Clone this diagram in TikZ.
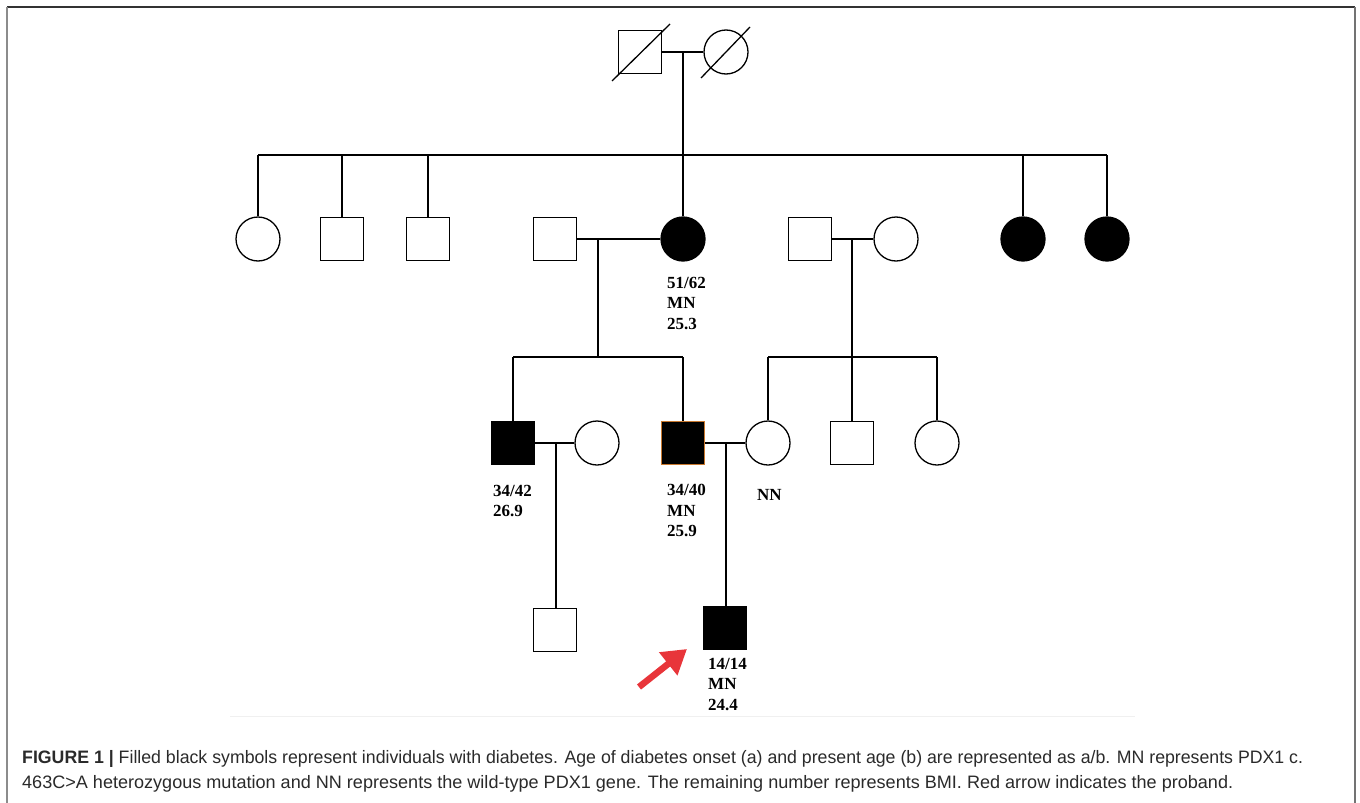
\documentclass[tikz,border=0pt]{standalone}
\usepackage{fontspec}
\setmainfont{Liberation Serif}
\setsansfont{Liberation Sans}
\usepackage{graphicx}
\usetikzlibrary{arrows.meta}
\definecolor{arrowred}{HTML}{E8353A}
\definecolor{boxorange}{HTML}{C8782E}
\definecolor{captxt}{HTML}{2A2A2A}
\begin{document}
\begin{tikzpicture}[x=1pt,y=-1pt,
  male/.style={draw, rectangle, minimum size=43pt, inner sep=0pt, line width=1.3pt},
  female/.style={draw, circle, minimum size=44pt, inner sep=0pt, line width=1.3pt},
  aff/.style={fill=black},
  ln/.style={line width=1.3pt},
  lab/.style={anchor=north west, inner sep=0pt, align=left,
    font=\bfseries\fontsize{17}{20.5}\selectfont},
  captext/.style={anchor=base west, inner sep=0pt, text=captxt,
    font=\sffamily\fontsize{18}{22}\selectfont}]
\useasboundingbox (0,0) rectangle (1360,803);
% frame
\draw[line width=1.5pt, black!80] (7,7) -- (1355,7);
\draw[line width=2pt, black!45] (7,7) -- (7,803);
\draw[line width=1.5pt, black!55] (1355,7) -- (1355,803);
\draw[line width=1pt, black!6] (230,716) -- (1135,716);

% generation I
\node[male] (gf) at (640,52) {};
\node[female] (gm) at (726,52) {};
\draw[ln] (612,81) -- (670,24);
\draw[ln] (701,78) -- (750,27);
\draw[ln] (gf.east) -- (gm.west);
\coordinate (m1) at (683,52);
\coordinate (s1) at (683,155);
\coordinate (s1l) at (258,155);
\coordinate (s1r) at (1107,155);
\draw[ln] (m1) -- (s1);
\draw[ln] (s1l) -- (s1r);

% generation II
\node[female] (a1) at (258,239) {};
\node[male] (a2) at (342,239) {};
\node[male] (a3) at (428,239) {};
\node[male] (a4) at (555,239) {};
\node[female, aff] (a5) at (683,239) {};
\node[male] (a6) at (810,239) {};
\node[female] (a7) at (896,239) {};
\node[female, aff] (a8) at (1023,239) {};
\node[female, aff] (a9) at (1107,239) {};
\draw[ln] (s1l) -- (a1.north);
\draw[ln] (a2.north |- s1) -- (a2.north);
\draw[ln] (a3.north |- s1) -- (a3.north);
\draw[ln] (s1) -- (a5.north);
\draw[ln] (a8.north |- s1) -- (a8.north);
\draw[ln] (s1r) -- (a9.north);
\draw[ln] (a4.east) -- (a5.west);
\draw[ln] (a6.east) -- (a7.west);
\node[lab] (la5) at (667,277) {51/62\\MN\\25.3};

\coordinate (m2) at (598,239);
\coordinate (s2) at (598,357);
\coordinate (s2l) at (513,357);
\coordinate (s2r) at (683,357);
\draw[ln] (m2) -- (s2);
\draw[ln] (s2l) -- (s2r);
\coordinate (m3) at (852,239);
\coordinate (s3) at (852,357);
\coordinate (s3l) at (768,357);
\coordinate (s3r) at (937,357);
\draw[ln] (m3) -- (s3);
\draw[ln] (s3l) -- (s3r);

% generation III
\node[male, aff] (b1) at (513,443) {};
\node[female] (b2) at (597,443) {};
\node[male, aff, draw=boxorange, line width=1pt] (b3) at (683,443) {};
\node[female] (b4) at (768,443) {};
\node[male] (b5) at (852,443) {};
\node[female] (b6) at (937,443) {};
\draw[ln] (s2l) -- (b1.north);
\draw[ln] (s2r) -- (b3.north);
\draw[ln] (s3l) -- (b4.north);
\draw[ln] (s3) -- (b5.north);
\draw[ln] (s3r) -- (b6.north);
\draw[ln] (b1.east) -- (b2.west);
\draw[ln] (b3.east) -- (b4.west);
\node[lab] (lb1) at (493,485) {34/42\\26.9};
\node[lab] (lb3) at (667,484) {34/40\\MN\\25.9};
\node[lab] (lb4) at (757,489) {NN};

% generation IV
\coordinate (m4) at (556,443);
\coordinate (m5) at (726,443);
\node[male] (c1) at (555,630) {};
\node[male, aff] (c2) at (725,628) {};
\draw[ln] (m4) -- (m4 |- c1.north);
\draw[ln] (m5) -- (m5 |- c2.north);
\node[lab] (lc2) at (708,658) {14/14\\MN\\24.4};

% proband arrow
\coordinate (arT) at (639,687);
\coordinate (arH) at (687,649);
\draw[arrowred, line width=6.5pt, -{Triangle[length=24pt,width=28pt]}] (arT) -- (arH);

% caption
\node[captext] (cap1) at (22,763) {\resizebox{1281pt}{\height}{\textbf{FIGURE 1 |} Filled black symbols represent individuals with diabetes. Age of diabetes onset (a) and present age (b) are represented as a/b. MN represents PDX1 c.}};
\node[captext] (cap2) at (22,788) {\resizebox{1211pt}{\height}{463C>A heterozygous mutation and NN represents the wild-type PDX1 gene. The remaining number represents BMI. Red arrow indicates the proband.}};
\end{tikzpicture}
\end{document}
